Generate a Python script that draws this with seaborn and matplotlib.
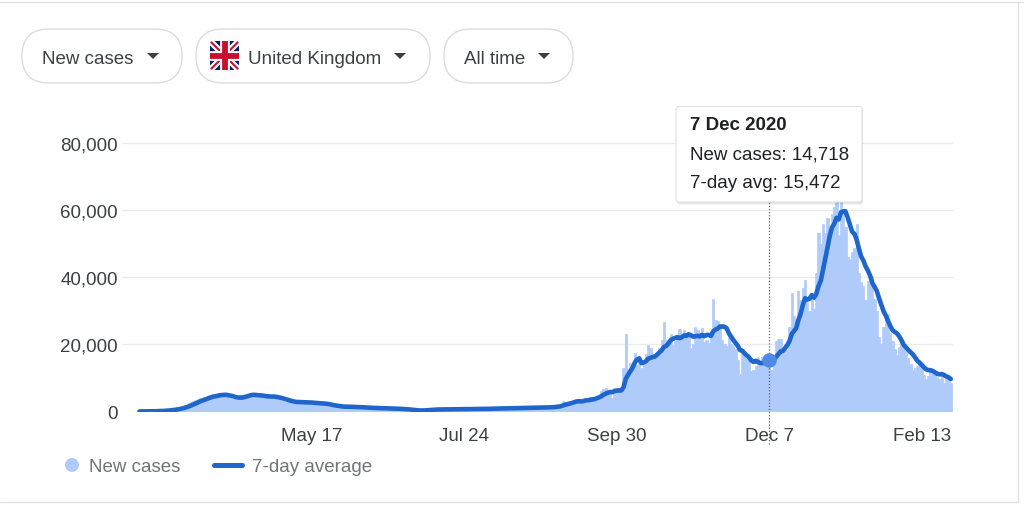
"""
plot.py - UK daily new cases with 7-day average, Google search card style.
"""

import numpy as np
import pandas as pd
import matplotlib
matplotlib.use("Agg")
import matplotlib.pyplot as plt
from matplotlib.patches import FancyBboxPatch, Polygon, Circle
from matplotlib.lines import Line2D
import seaborn as sns

# daily new cases, one list per month
mar_2020 = [20, 30, 40, 50, 70, 90, 110, 140, 170, 200,
            250, 320, 400, 480, 580, 700, 850, 1000, 1200, 1450,
            1700, 2000, 2400, 2700, 3000, 3300, 3600, 3900, 3700, 4200, 4500]
apr_2020 = [4800, 4900, 5100, 4600, 4800, 5300, 4900, 5200, 4700, 4000,
            3900, 3600, 3500, 4300, 4900, 5000, 5000, 5200, 5100, 4900,
            4700, 4600, 4400, 4800, 4700, 4300, 4200, 4400, 4300, 4500]
may_2020 = [4200, 3800, 3300, 3000, 2900, 3100, 2800, 3000, 2700, 2500,
            2800, 2900, 2800, 2600, 2500, 2600, 2400, 2300, 2600, 2500,
            2300, 2200, 2100, 1800, 1600, 1500, 1400, 1600, 1500, 1400, 1300]
jun_2020 = [1300, 1500, 1400, 1300, 1200, 1300, 1200, 1100, 1200, 1100,
            1000, 1100, 1000, 950, 900, 1000, 950, 1000, 900, 850,
            800, 850, 800, 750, 700, 650, 600, 550, 450, 350]
jul_2020 = [250, 200, 150, 200, 500, 550, 600, 550, 600, 500,
            700, 650, 600, 600, 550, 700, 650, 700, 750, 650,
            600, 650, 700, 750, 700, 800, 750, 700, 800, 850, 750]
aug_2020 = [800, 750, 850, 900, 950, 900, 850, 800, 900, 1000,
            950, 1050, 1000, 950, 1000, 1100, 1050, 1000, 1100, 1150,
            1050, 1100, 1000, 1150, 1200, 1250, 1150, 1300, 1200, 1250, 1350]
sep_2020 = [1295, 1508, 1735, 1940, 1813, 2988, 2948, 2460, 2659, 2919,
            3539, 3497, 3330, 2621, 3105, 3991, 3395, 4322, 4422, 3899,
            4368, 4926, 6178, 6634, 6874, 6042, 5693, 4044, 7143, 7108]
oct_2020 = [6914, 6968, 12872, 22961, 12594, 14542, 14162, 17540, 13864, 15166,
            12872, 13972, 17234, 19724, 18980, 15650, 16171, 16982, 18804, 21331,
            26688, 21242, 20530, 23012, 19790, 20890, 22885, 24701, 23065, 24405, 21915]
nov_2020 = [23254, 18950, 20018, 25177, 24141, 23287, 24957, 20572, 21350, 20412,
            22950, 33470, 27301, 26860, 24962, 21363, 20051, 19609, 22915, 20252,
            19875, 18662, 15450, 11299, 18213, 17555, 16022, 15871, 12155, 12330]
dec_2020 = [13430, 16170, 14879, 16298, 15539, 17272, 14718, 12282, 16578, 20964,
            21672, 21502, 18447, 20263, 18450, 25161, 35383, 28507, 27052, 35928,
            33364, 36804, 39237, 32725, 30000, 34693, 30501, 41385, 53135, 50023, 55892]
jan_2021 = [53285, 57725, 54990, 58784, 60916, 62322, 52618, 68053, 59937, 54940,
            46169, 45533, 47525, 48682, 55761, 41346, 38598, 37535, 33355, 38905,
            37892, 40261, 33552, 30004, 22195, 20089, 25308, 28680, 29079, 23275, 21088]
feb_2021 = [18607, 16840, 19202, 20634, 19114, 18262, 15845, 14104, 12364, 13013,
            13494, 15144, 13308, 10972, 9765, 10625, 12718, 12057, 12027, 10406,
            9834, 10641, 8489, 9938, 9985, 8523]

start_date = "2020-03-01"
tick_dates = ["2020-05-17", "2020-07-24", "2020-09-30", "2020-12-07", "2021-02-13"]
tick_labels = ["May 17", "Jul 24", "Sep 30", "Dec 7", "Feb 13"]
y_ticks = [0, 20000, 40000, 60000, 80000]
highlight_date = "2020-12-07"
filter_labels = ["New cases", "United Kingdom", "All time"]
legend_labels = ["New cases", "7-day average"]

BAR_BLUE = "#aecbfa"
LINE_BLUE = "#1f66cc"
DOT_BLUE = "#4f8be6"
TEXT = "#3c4043"
TEXT_DARK = "#202124"
TEXT_GREY = "#70757a"
BORDER = "#dadce0"
GRID = "#ebebeb"

W, H = 1024, 506


def fig_rect(left, top, right, bottom):
    """Pixel box (origin top-left) -> figure fraction rect."""
    return [left / W, 1 - bottom / H, (right - left) / W, (bottom - top) / H]


def draw_arrow(ax, cx, cy):
    ax.add_patch(Polygon([(cx - 6, cy - 3), (cx + 6, cy - 3), (cx, cy + 3)],
                         closed=True, fc=TEXT, ec="none"))


def draw_flag(ax, x, y, s):
    """Small rounded Union Jack."""
    clip = FancyBboxPatch((x, y), s, s, boxstyle="round,pad=0,rounding_size=3",
                          fc="#012169", ec="none")
    ax.add_patch(clip)
    cx, cy = x + s / 2, y + s / 2
    strokes = [
        ([x, x + s], [y, y + s], "white", 4.6),
        ([x, x + s], [y + s, y], "white", 4.6),
        ([x, x + s], [y, y + s], "#c8102e", 1.5),
        ([x, x + s], [y + s, y], "#c8102e", 1.5),
        ([cx, cx], [y, y + s], "white", 7.0),
        ([x, x + s], [cy, cy], "white", 7.0),
        ([cx, cx], [y, y + s], "#c8102e", 4.2),
        ([x, x + s], [cy, cy], "#c8102e", 4.2),
    ]
    for xs, ys, c, lw in strokes:
        ln = Line2D(xs, ys, color=c, lw=lw, solid_capstyle="butt")
        ax.add_line(ln)
        ln.set_clip_path(clip)


sns.set_theme(style="white")
plt.rcParams["font.family"] = ["Liberation Sans", "DejaVu Sans"]

cases = np.array(mar_2020 + apr_2020 + may_2020 + jun_2020 + jul_2020 + aug_2020
                 + sep_2020 + oct_2020 + nov_2020 + dec_2020 + jan_2021 + feb_2021)
dates = pd.date_range(start_date, periods=len(cases), freq="D")
df = pd.DataFrame({"date": dates, "cases": cases})
df["day"] = (df["date"] - df["date"].iloc[0]).dt.days
df["avg"] = df["cases"].rolling(7, min_periods=1).mean()

fig = plt.figure(figsize=(W / 100, H / 100), dpi=100)
fig.patch.set_facecolor("white")

# main chart
ax = fig.add_axes(fig_rect(122, 110.5, 953, 412.5))
sns.barplot(data=df, x="day", y="cases", native_scale=True, width=1.0,
            color=BAR_BLUE, saturation=1, linewidth=0.5, edgecolor=BAR_BLUE,
            errorbar=None, ax=ax, zorder=2)
sns.lineplot(data=df, x="day", y="avg", color=LINE_BLUE, linewidth=3.3,
             solid_joinstyle="round", solid_capstyle="round", ax=ax, zorder=4)

ax.set_xlim(-7.8, 363.0)
ax.set_ylim(0, 90000)
ax.set_yticks(y_ticks)
ax.set_yticklabels([f"{v:,}" for v in y_ticks])
tick_pos = [(pd.Timestamp(t) - dates[0]).days for t in tick_dates]
ax.set_xticks(tick_pos)
ax.set_xticklabels(tick_labels)
ax.yaxis.grid(True, color=GRID, lw=1)
ax.xaxis.grid(False)
ax.set_axisbelow(True)
ax.tick_params(axis="y", length=0, pad=3, labelsize=13.5, labelcolor=TEXT)
ax.tick_params(axis="x", length=8, width=1, color=BORDER, pad=3,
               labelsize=13.5, labelcolor=TEXT)
for s in ax.spines.values():
    s.set_visible(False)
ax.set_xlabel("")
ax.set_ylabel("")
ax.set_facecolor("none")

# hovered day
hl = df[df["date"] == pd.Timestamp(highlight_date)].iloc[0]
ax.axvline(hl["day"], ymin=-0.108, ymax=0.70, color="#5f6368", lw=0.9,
           ls=(0, (1, 1.5)), clip_on=False, zorder=3)
sns.scatterplot(x=[hl["day"]], y=[hl["avg"]], s=110, color=DOT_BLUE,
                linewidth=0, ax=ax, zorder=5, legend=False)

# overlay in pixel coordinates for the card furniture
ov = fig.add_axes([0, 0, 1, 1], zorder=10)
ov.set_xlim(0, W)
ov.set_ylim(H, 0)
ov.axis("off")
ov.patch.set_alpha(0)

# card border
ov.plot([0, W], [3, 3], color="#e3e3e3", lw=1)
ov.plot([1018, 1018], [3, 503], color="#e3e3e3", lw=1)
ov.plot([0, 1018], [503, 503], color="#e3e3e3", lw=1)

# filter pills
pills = [(22, 160, 42, 153), (196, 234, 248, 400), (444, 129, 464, 544)]
for (px, pw, tx, arx), label in zip(pills, filter_labels):
    ov.add_patch(FancyBboxPatch((px, 30), pw, 54,
                                boxstyle="round,pad=0,rounding_size=27",
                                fc="white", ec=BORDER, lw=1))
    ov.text(tx, 63.5, label, fontsize=13.5, color=TEXT, va="baseline")
    draw_arrow(ov, arx, 57)
draw_flag(ov, 210, 42, 29)

# tooltip
ov.add_patch(FancyBboxPatch((677, 109.5), 186, 96,
                            boxstyle="round,pad=0,rounding_size=3",
                            fc="black", ec="none", alpha=0.10))
ov.add_patch(FancyBboxPatch((676, 107.5), 186, 95.5,
                            boxstyle="round,pad=0,rounding_size=3",
                            fc="white", ec="#e2e2e2", lw=0.8))
ts = pd.Timestamp(highlight_date)
ov.text(690, 130, f"{ts.day} {ts:%b %Y}", fontsize=13.5, weight="bold",
        color=TEXT_DARK, va="baseline")
ov.text(690, 159, f"New cases: {int(hl['cases']):,}", fontsize=13.5,
        color=TEXT_DARK, va="baseline")
ov.text(690, 188, f"7-day avg: {int(round(hl['avg'])):,}", fontsize=13.5,
        color=TEXT_DARK, va="baseline")

# legend
ov.add_patch(Circle((72, 466), 7, fc=BAR_BLUE, ec="none"))
ov.text(89, 472, legend_labels[0], fontsize=13.5, color=TEXT_GREY, va="baseline")
ov.add_line(Line2D([214, 242], [466, 466], color=LINE_BLUE, lw=3.6,
                   solid_capstyle="round"))
ov.text(252, 472, legend_labels[1], fontsize=13.5, color=TEXT_GREY, va="baseline")

fig.savefig("out.png", dpi=100, facecolor="white")
plt.close(fig)
